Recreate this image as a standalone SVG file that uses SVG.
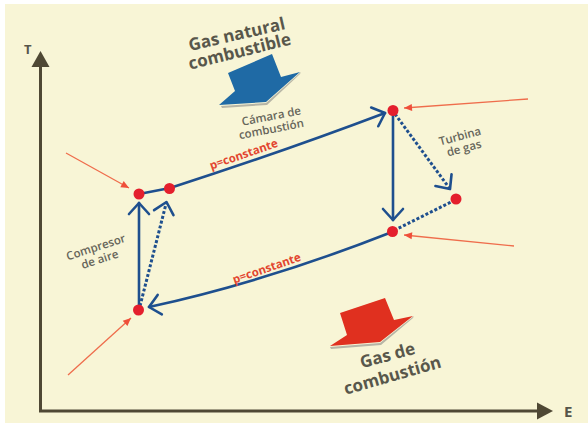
<svg xmlns="http://www.w3.org/2000/svg" width="588" height="423" viewBox="0 0 588 423">
<defs>
<style>
.ax{stroke:#4f4834;stroke-width:3;fill:none}
.ln{stroke:#1e4f8e;stroke-width:2.6;fill:none;stroke-linecap:round}
.ds{stroke:#1e4f8e;stroke-width:3;fill:none;stroke-dasharray:3 2}
.or{stroke:#ef6d4c;stroke-width:1.3;fill:none}
.dot{fill:#e41f2d}
.big{font-family:"Open Sans","DejaVu Sans",sans-serif;font-weight:bold;font-size:17px;fill:#58574b;text-anchor:middle}
.sm{font-family:"Open Sans","DejaVu Sans",sans-serif;font-weight:600;font-size:11.5px;fill:#66655a;text-anchor:middle}
.pc{font-family:"Open Sans","DejaVu Sans",sans-serif;font-weight:bold;font-size:11.5px;fill:#e2452f;text-anchor:middle}
.axl{font-family:"Open Sans","DejaVu Sans",sans-serif;font-weight:bold;fill:#56554a}
</style>
<marker id="chev" markerUnits="userSpaceOnUse" markerWidth="30" markerHeight="30" viewBox="-15 -15 30 30" refX="0" refY="0" orient="auto">
<path d="M-11,-10 L0,0 L-11,10" fill="none" stroke="#1e4f8e" stroke-width="2.6" stroke-linecap="round" stroke-linejoin="round"/>
</marker>
<marker id="tri" markerUnits="userSpaceOnUse" markerWidth="14" markerHeight="14" viewBox="-10 -7 14 14" refX="0" refY="0" orient="auto">
<path d="M-8,-3.5 L0,0 L-8,3.5 Z" fill="#ef4f3a"/>
</marker>
</defs>
<rect x="0" y="0" width="588" height="423" fill="#ffffff"/>
<rect x="5" y="4" width="583" height="419" fill="#f8f5d6"/>

<g id="axes">
<line class="ax" x1="40.5" y1="62" x2="40.5" y2="411"/>
<line class="ax" x1="39" y1="411" x2="540" y2="411"/>
<polygon points="40.5,51 31.5,67 49.5,67" fill="#4f4834"/>
<polygon points="553,411 537,402.5 537,419.5" fill="#4f4834"/>
<text class="axl" x="24" y="54" font-size="13">T</text>
<text class="axl" x="564" y="417" font-size="15">E</text>
</g>

<g id="fuel-arrow">
<polygon points="221,106 266,103 301,72 300,74 267,105 222,108" fill="#8a8a86" opacity="0.6"/>
<polygon points="228,73 272,54 281,77 300,72 266,102 219,105 235,91" fill="#1f6aa5"/>
<g transform="rotate(-13 238 40)"><text class="big" x="238" y="40">Gas natural</text></g>
<g transform="rotate(-14 241 57)"><text class="big" x="241" y="57">combustible</text></g>
</g>

<g id="exhaust-arrow">
<polygon points="330,347 380,343 414,316 413,318 381,345 331,349" fill="#8a8a86" opacity="0.6"/>
<polygon points="340,313 385,298 394,320 413,316 380,342 330,346 347,335" fill="#e0301f"/>
<g transform="rotate(-15 389 361)"><text class="big" x="389" y="361" font-size="18">Gas de</text></g>
<g transform="rotate(-16 394 381)"><text class="big" x="394" y="381" font-size="18">combustión</text></g>
</g>

<g id="connectors">
<line class="ln" x1="139" y1="194" x2="170" y2="188"/>
<line class="ln" x1="139" y1="309" x2="139" y2="203" marker-end="url(#chev)"/>
<line class="ds" x1="140" y1="306" x2="166.5" y2="202" marker-end="url(#chev)"/>
<path class="ln" d="M170,188 Q282,152 385,113" marker-end="url(#chev)"/>
<line class="ln" x1="393" y1="112" x2="393" y2="220" marker-end="url(#chev)"/>
<line class="ds" x1="395" y1="114" x2="450" y2="189" marker-end="url(#chev)"/>
<line class="ds" x1="455" y1="200" x2="393" y2="231"/>
<path class="ln" d="M392,232 Q265,282 149,307" marker-end="url(#chev)"/>
<line class="or" x1="66" y1="153" x2="129" y2="188" marker-end="url(#tri)"/>
<line class="or" x1="528" y1="99" x2="404" y2="108" marker-end="url(#tri)"/>
<line class="or" x1="514" y1="246" x2="404" y2="235" marker-end="url(#tri)"/>
<line class="or" x1="68" y1="375" x2="131" y2="318" marker-end="url(#tri)"/>
</g>

<g id="labels">
<g transform="rotate(-11 272 120)"><text class="sm" x="272" y="120">Cámara de</text></g>
<g transform="rotate(-11 272 133)"><text class="sm" x="272" y="133">combustión</text></g>
<g transform="rotate(-19 245 158)"><text class="pc" x="245" y="158">p=constante</text></g>
<g transform="rotate(-19 268 272)"><text class="pc" x="268" y="272">p=constante</text></g>
<g transform="rotate(-15 461 140)"><text class="sm" x="461" y="140">Turbina</text></g>
<g transform="rotate(-15 465 152)"><text class="sm" x="465" y="152">de gas</text></g>
<g transform="rotate(-18 97 251)"><text class="sm" x="97" y="251">Compresor</text></g>
<g transform="rotate(-18 101 263)"><text class="sm" x="101" y="263">de aire</text></g>
</g>

<g id="node-A"><circle class="dot" cx="139" cy="194" r="5.5"/></g>
<g id="node-B"><circle class="dot" cx="169.5" cy="188.5" r="5.5"/></g>
<g id="node-C"><circle class="dot" cx="393" cy="110.5" r="5.5"/></g>
<g id="node-D"><circle class="dot" cx="456" cy="199" r="5.5"/></g>
<g id="node-E"><circle class="dot" cx="392.5" cy="231.5" r="5.5"/></g>
<g id="node-F"><circle class="dot" cx="138.5" cy="310" r="5.5"/></g>
</svg>
